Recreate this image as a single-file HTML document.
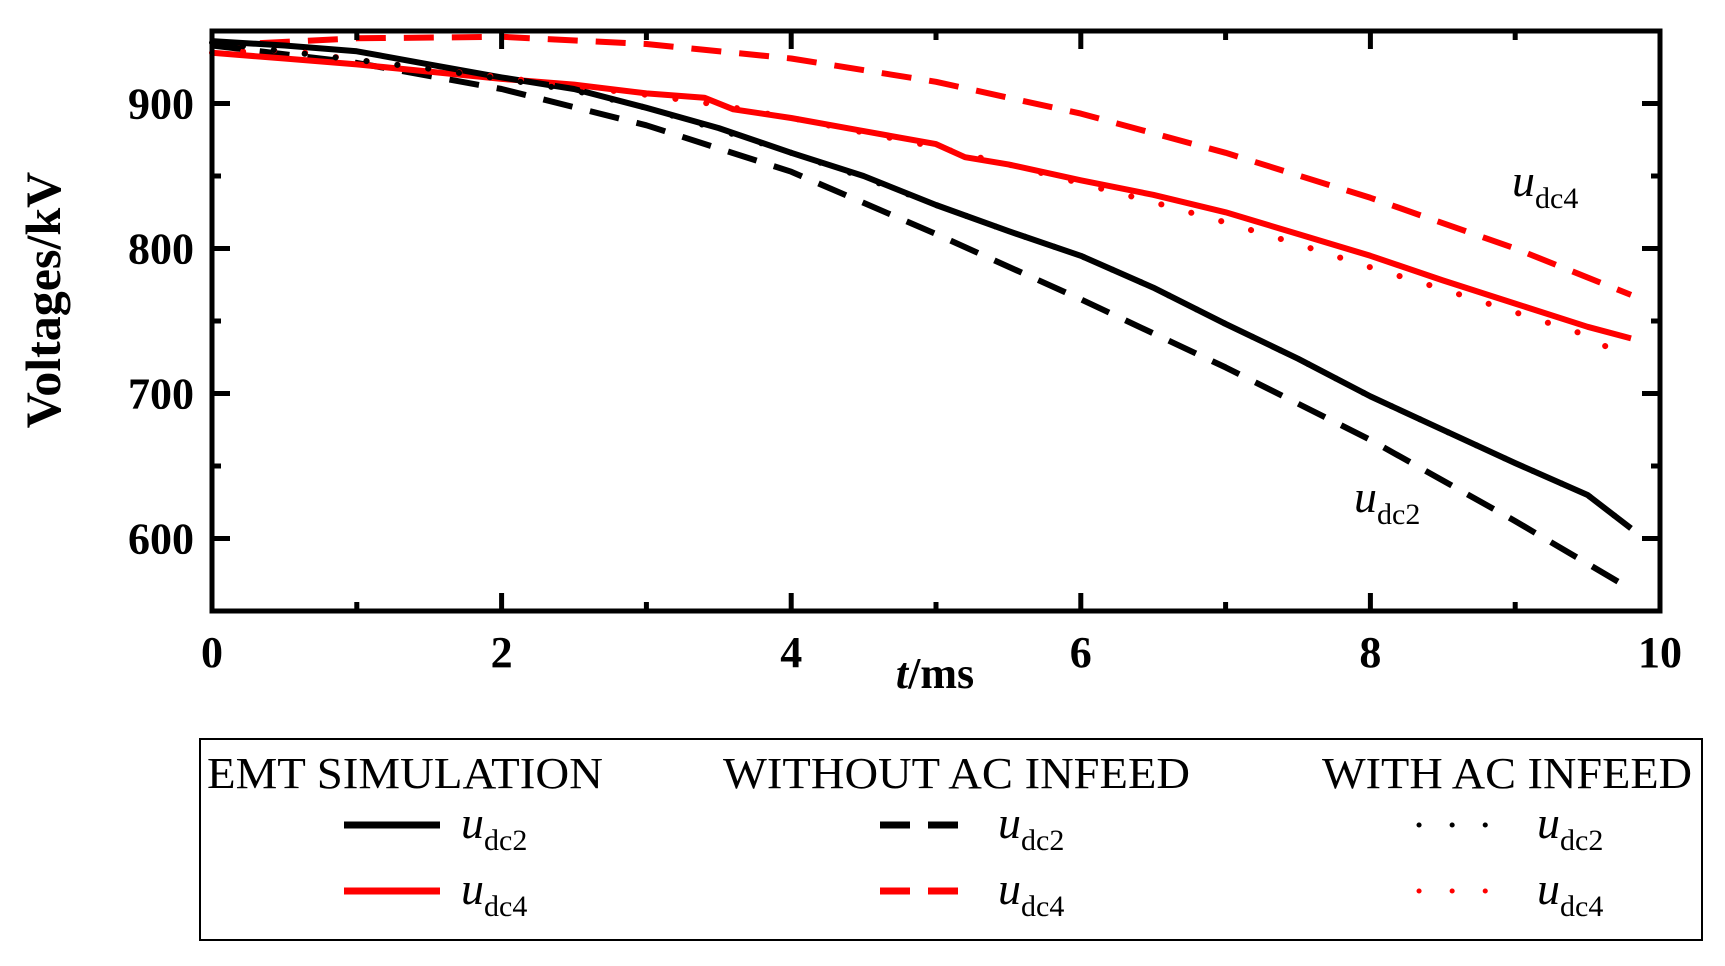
<!DOCTYPE html>
<html><head><meta charset="utf-8"><style>
body{margin:0;background:#fff;}
svg{display:block;font-family:"Liberation Serif",serif;}
</style></head><body>
<svg width="1725" height="966" viewBox="0 0 1725 966">
<g id="plot"></g>
<g id="legend">
<rect x="200" y="739" width="1502" height="201" fill="none" stroke="#000" stroke-width="2"/>
<text x="207" y="788" font-size="44" textLength="396" lengthAdjust="spacingAndGlyphs">EMT SIMULATION</text>
<text x="723" y="788" font-size="44" textLength="467" lengthAdjust="spacingAndGlyphs">WITHOUT AC INFEED</text>
<text x="1322" y="788" font-size="44" textLength="370" lengthAdjust="spacingAndGlyphs">WITH AC INFEED</text>
</g>
<script>
const tEMT2=[0,0.5,1,1.5,2,2.5,3,3.5,4,4.5,5,5.5,6,6.5,7,7.5,8,8.5,9,9.5,9.8];
const vEMT2=[943,940,936,927,918,910,897,883,866,850,830,812,795,773,748,724,698,675,652,630,607];
const tEMT4=[0,0.5,1,1.5,2,2.5,3,3.4,3.6,4,4.5,5,5.2,5.5,6,6.5,7,7.5,8,8.5,9,9.5,9.8];
const vEMT4=[935,931,927,922,917,913,907,904,896,890,881,872,863,858,847,837,825,810,795,778,762,746,738];
const tNo2=[0,1,2,3,4,5,6,7,8,9,9.8];
const vNo2=[940,928,910,885,853,810,765,718,668,612,565];
const tNo4=[0,1,2,3,4,5,6,7,8,9,9.8];
const vNo4=[940,945,946,941,931,915,893,866,835,800,768];
const tAc2=[0,0.5,1,1.5,2,2.5,3,3.5,4,4.5,5,5.5,6,6.5,7,7.5,8,8.5,9,9.5,9.8];
const vAc2=[942,936,930,924,917,909,897,882,866,849,830,812,795,773,748,724,698,675,652,630,607];
const tAc4=[0,0.5,1,1.5,2,2.5,3,3.5,4,4.5,5,5.5,6,6.5,7,7.5,8,8.5,9,9.5,9.7];
const vAc4=[935,937,930,924,918,912,906,899,890,880,870,858,845,832,818,803,787,772,756,740,728];
const xTicks=[0,2,4,6,8,10];
const yTicks=[600,700,800,900];
const X0=212,X1=1660,Y0=611,Y1=31,XMIN=0,XMAX=10,YMIN=550,YMAX=950;
const sx=t=>X0+(t-XMIN)/(XMAX-XMIN)*(X1-X0);
const sy=v=>Y0-(v-YMIN)/(YMAX-YMIN)*(Y0-Y1);
const NS="http://www.w3.org/2000/svg";
const g=document.getElementById('plot');
function mk(tag,attrs,parent){const e=document.createElementNS(NS,tag);for(const k in attrs)e.setAttribute(k,attrs[k]);(parent||g).appendChild(e);return e;}
function series(ts,vs,color,dash,name,cap){
 const d=ts.map((t,i)=>(i?'L':'M')+sx(t).toFixed(1)+','+sy(vs[i]).toFixed(1)).join('');
 const p=mk('path',{d:d,fill:'none',stroke:color,'stroke-width':6,'stroke-dasharray':dash,'stroke-linecap':cap||'butt','stroke-linejoin':'round'});
 
 
}
series(tNo4,vNo4,'#f00','30 18','line-without-udc4');
series(tNo2,vNo2,'#000','30 18','line-without-udc2');
series(tEMT4,vEMT4,'#f00','','line-emt-udc4');
series(tEMT2,vEMT2,'#000','','line-emt-udc2');
series(tAc4,vAc4,'#f00','0.1 31','line-with-udc4','round');
series(tAc2,vAc2,'#000','0.1 31','line-with-udc2','round');
const fr=mk('rect',{x:X0,y:Y1,width:X1-X0,height:Y0-Y1,fill:'none',stroke:'#000','stroke-width':5});


for(let t=0;t<=10;t+=1){const L=t%2===0?18:9;
 mk('line',{x1:sx(t),x2:sx(t),y1:Y0,y2:Y0-L,stroke:'#000','stroke-width':5});
 mk('line',{x1:sx(t),x2:sx(t),y1:Y1,y2:Y1+L,stroke:'#000','stroke-width':5});}
for(let v=550;v<=950;v+=50){const L=v%100===0?18:9;
 mk('line',{x1:X0,x2:X0+L,y1:sy(v),y2:sy(v),stroke:'#000','stroke-width':5});
 mk('line',{x1:X1,x2:X1-L,y1:sy(v),y2:sy(v),stroke:'#000','stroke-width':5});}
xTicks.forEach(t=>{const e=mk('text',{x:sx(t),y:667,'font-size':44,'font-weight':'bold','text-anchor':'middle'});e.textContent=t;
 
 });
yTicks.forEach(v=>{const e=mk('text',{x:194,y:sy(v)+15,'font-size':44,'font-weight':'bold','text-anchor':'end'});e.textContent=v;
 
 });
</script>
<text x="935" y="688" font-size="44" font-weight="bold" text-anchor="middle"><tspan font-style="italic">t</tspan>/ms</text>
<text transform="translate(60,300) rotate(-90)" font-size="50" font-weight="bold" text-anchor="middle">Voltages/kV</text>
<text x="1512" y="196" font-size="46" font-style="italic">u<tspan font-size="30" font-style="normal" dy="12">dc4</tspan></text>
<text x="1354" y="512" font-size="46" font-style="italic">u<tspan font-size="30" font-style="normal" dy="12">dc2</tspan></text>
<g>
<line x1="344" x2="440" y1="825" y2="825" stroke="#000" stroke-width="7"/>
<line x1="344" x2="440" y1="891" y2="891" stroke="#f00" stroke-width="7"/>
<line x1="880" x2="974" y1="825" y2="825" stroke="#000" stroke-width="7" stroke-dasharray="30 18"/>
<line x1="880" x2="974" y1="891" y2="891" stroke="#f00" stroke-width="7" stroke-dasharray="30 18"/>
<line x1="1419" x2="1491" y1="825" y2="825" stroke="#000" stroke-width="5" stroke-dasharray="0.1 33" stroke-linecap="round"/>
<line x1="1419" x2="1491" y1="891" y2="891" stroke="#f00" stroke-width="5" stroke-dasharray="0.1 33" stroke-linecap="round"/>
<text x="461" y="838" font-size="46" font-style="italic">u<tspan font-size="30" font-style="normal" dy="12">dc2</tspan></text>
<text x="461" y="904" font-size="46" font-style="italic">u<tspan font-size="30" font-style="normal" dy="12">dc4</tspan></text>
<text x="998" y="838" font-size="46" font-style="italic">u<tspan font-size="30" font-style="normal" dy="12">dc2</tspan></text>
<text x="998" y="904" font-size="46" font-style="italic">u<tspan font-size="30" font-style="normal" dy="12">dc4</tspan></text>
<text x="1537" y="838" font-size="46" font-style="italic">u<tspan font-size="30" font-style="normal" dy="12">dc2</tspan></text>
<text x="1537" y="904" font-size="46" font-style="italic">u<tspan font-size="30" font-style="normal" dy="12">dc4</tspan></text>
</g>
</svg>
</body></html>
